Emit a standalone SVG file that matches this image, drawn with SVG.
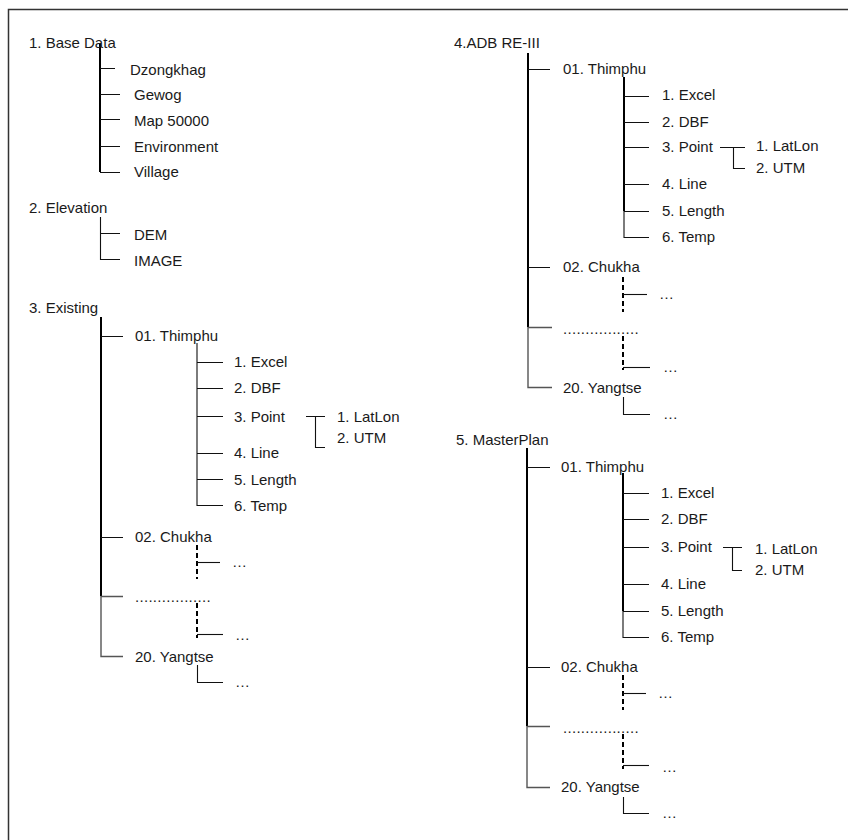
<svg xmlns="http://www.w3.org/2000/svg" width="848" height="840" viewBox="0 0 848 840">
<style>
text{font-family:"Liberation Sans",Arial,sans-serif;font-size:15px;fill:#1a1a1a}
.dots{letter-spacing:0.3px}
.frame{stroke:#333;stroke-width:1.5;fill:none}
.main{stroke:#000;stroke-width:2;fill:none}
.main2{stroke:#555;stroke-width:1.4;fill:none}
.br{stroke:#111;stroke-width:1.1;fill:none}
.dash{stroke:#000;stroke-width:2;stroke-dasharray:5 3;fill:none}
</style>
<rect x="0" y="0" width="848" height="840" fill="#fff"/>
<path class="frame" d="M8.5,840 V9.5 H848"/>
<g id="connectors">
  <!-- 1. Base Data -->
  <path class="main" d="M100,43 V172"/>
  <path class="br" d="M100,68.5 H115 M100,94.5 H120 M100,119.5 H120 M100,146.5 H120 M100,172.5 H120"/>
  <!-- 2. Elevation -->
  <path class="br" d="M100.5,217 V259.5 H120 M100.5,233.5 H120"/>
  <!-- 3. Existing -->
  <path class="main" d="M101,317 V596"/>
  <path class="main2" d="M101,596 V656.5 H123 M101,596.5 H123"/>
  <path class="br" d="M101,336.5 H123 M101,537.5 H123"/>
  <path class="br" d="M197,343 V505.5 H223 M197,362.5 H223 M197,388.5 H223 M197,416.5 H223 M197,453.5 H223 M197,479.5 H223"/>
  <path class="br" d="M306,416.5 H325 M315.5,416.5 V447.5 H325"/>
  <path class="dash" d="M197,545 V579"/>
  <path class="br" d="M197,562.5 H220"/>
  <path class="dash" d="M197,603 V638"/>
  <path class="br" d="M197,634.5 H223"/>
  <path class="br" d="M197.5,665 V682.5 H223"/>
  <!-- 4. ADB RE-III -->
  <path class="main" d="M528,53 V327"/>
  <path class="main2" d="M528,327 V387.5 H552 M528,327.5 H552"/>
  <path class="br" d="M528,69.5 H550 M528,267.5 H550"/>
  <path class="main" d="M624,77 V211"/>
  <path class="br" d="M624,211 V237.5 H649 M624,96.5 H649 M624,122.5 H649 M624,147.5 H649 M624,184.5 H649 M624,211.5 H649"/>
  <path class="br" d="M720,147.5 H745 M733.5,147.5 V168.5 H745"/>
  <path class="dash" d="M623,277 V312"/>
  <path class="br" d="M623,294.5 H647"/>
  <path class="dash" d="M623,336 V370"/>
  <path class="br" d="M623,367.5 H650"/>
  <path class="br" d="M623.5,397 V414.5 H650"/>
  <!-- 5. MasterPlan -->
  <path class="main" d="M527,448 V726"/>
  <path class="main2" d="M527,726 V787.5 H550 M527,726.5 H550"/>
  <path class="br" d="M527,467.5 H550 M527,667.5 H550"/>
  <path class="main" d="M623,473 V611"/>
  <path class="br" d="M623,611 V637.5 H649 M623,493.5 H649 M623,519.5 H649 M623,547.5 H649 M623,584.5 H649 M623,611.5 H649"/>
  <path class="br" d="M723,547.5 H742 M732.5,547.5 V570.5 H742"/>
  <path class="dash" d="M623,675 V710"/>
  <path class="br" d="M623,693.5 H646"/>
  <path class="dash" d="M623,734 V769"/>
  <path class="br" d="M623,765.5 H649"/>
  <path class="br" d="M623.5,797 V813.5 H649"/>
</g>
<g id="n1-base-data"><text x="29" y="48">1. Base Data</text></g>
<g id="n1-dzongkhag"><text x="130" y="75">Dzongkhag</text></g>
<g id="n1-gewog"><text x="134" y="100">Gewog</text></g>
<g id="n1-map"><text x="134" y="126">Map 50000</text></g>
<g id="n1-env"><text x="134" y="152">Environment</text></g>
<g id="n1-village"><text x="134" y="177">Village</text></g>
<g id="n2-elevation"><text x="29" y="213">2. Elevation</text></g>
<g id="n2-dem"><text x="134" y="240">DEM</text></g>
<g id="n2-image"><text x="134" y="266">IMAGE</text></g>

<g id="n3-existing"><text x="29" y="313">3. Existing</text></g>
<g id="n3-thimphu"><text x="135" y="341">01. Thimphu</text></g>
<g id="n3-excel"><text x="234" y="367">1. Excel</text></g>
<g id="n3-dbf"><text x="234" y="393">2. DBF</text></g>
<g id="n3-point"><text x="234" y="422">3. Point</text></g>
<g id="n3-latlon"><text x="337" y="422">1. LatLon</text></g>
<g id="n3-utm"><text x="337" y="443">2. UTM</text></g>
<g id="n3-line"><text x="234" y="458">4. Line</text></g>
<g id="n3-length"><text x="234" y="485">5. Length</text></g>
<g id="n3-temp"><text x="234" y="511">6. Temp</text></g>
<g id="n3-chukha"><text x="135" y="542">02. Chukha</text></g>
<g id="n3-chukha-more"><text x="232" y="567">…</text></g>
<g id="n3-dots"><text class="dots" x="135" y="602">.................</text></g>
<g id="n3-dots-more"><text x="235" y="640">…</text></g>
<g id="n3-yangtse"><text x="135" y="662">20. Yangtse</text></g>
<g id="n3-yangtse-more"><text x="235" y="687">…</text></g>

<g id="n4-adb"><text x="454" y="48">4.ADB RE-III</text></g>
<g id="n4-thimphu"><text x="563" y="74">01. Thimphu</text></g>
<g id="n4-excel"><text x="662" y="100">1. Excel</text></g>
<g id="n4-dbf"><text x="662" y="127">2. DBF</text></g>
<g id="n4-point"><text x="662" y="152">3. Point</text></g>
<g id="n4-latlon"><text x="756" y="151">1. LatLon</text></g>
<g id="n4-utm"><text x="756" y="173">2. UTM</text></g>
<g id="n4-line"><text x="662" y="189">4. Line</text></g>
<g id="n4-length"><text x="662" y="216">5. Length</text></g>
<g id="n4-temp"><text x="662" y="242">6. Temp</text></g>
<g id="n4-chukha"><text x="563" y="272">02. Chukha</text></g>
<g id="n4-chukha-more"><text x="659" y="299">…</text></g>
<g id="n4-dots"><text class="dots" x="563" y="334">.................</text></g>
<g id="n4-dots-more"><text x="663" y="372">…</text></g>
<g id="n4-yangtse"><text x="563" y="393">20. Yangtse</text></g>
<g id="n4-yangtse-more"><text x="663" y="419">…</text></g>

<g id="n5-masterplan"><text x="456" y="445">5. MasterPlan</text></g>
<g id="n5-thimphu"><text x="561" y="472">01. Thimphu</text></g>
<g id="n5-excel"><text x="661" y="498">1. Excel</text></g>
<g id="n5-dbf"><text x="661" y="524">2. DBF</text></g>
<g id="n5-point"><text x="661" y="552">3. Point</text></g>
<g id="n5-latlon"><text x="755" y="554">1. LatLon</text></g>
<g id="n5-utm"><text x="755" y="575">2. UTM</text></g>
<g id="n5-line"><text x="661" y="589">4. Line</text></g>
<g id="n5-length"><text x="661" y="616">5. Length</text></g>
<g id="n5-temp"><text x="661" y="642">6. Temp</text></g>
<g id="n5-chukha"><text x="561" y="672">02. Chukha</text></g>
<g id="n5-chukha-more"><text x="658" y="698">…</text></g>
<g id="n5-dots"><text class="dots" x="563" y="733">.................</text></g>
<g id="n5-dots-more"><text x="662" y="772">…</text></g>
<g id="n5-yangtse"><text x="561" y="792">20. Yangtse</text></g>
<g id="n5-yangtse-more"><text x="662" y="818">…</text></g>
</svg>
